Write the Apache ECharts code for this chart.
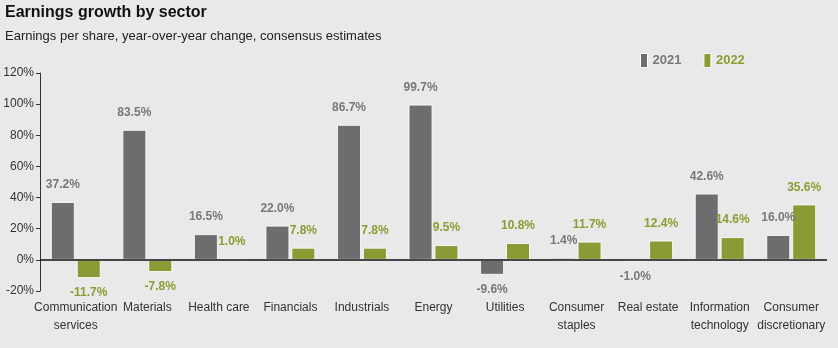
<!DOCTYPE html>
<html>
<head>
<meta charset="utf-8">
<script src="https://cdn.jsdelivr.net/npm/echarts@6/dist/echarts.min.js"></script>
<style>
  html, body { margin: 0; padding: 0; background: #e9e9e9; }
  #chart { width: 838px; height: 348px; }
</style>
</head>
<body>
<div id="chart"></div>
<script>
// Sector names, EPS growth (%) for each year, and y-axis range
const categories = [
  'Communication\nservices', 'Materials', 'Health care', 'Financials', 'Industrials',
  'Energy', 'Utilities', 'Consumer\nstaples', 'Real estate', 'Information\ntechnology',
  'Consumer\ndiscretionary'
];
const growth2021 = [37.2, 83.5, 16.5, 22.0, 86.7, 99.7, -9.6, 1.4, -1.0, 42.6, 16.0];
const growth2022 = [-11.7, -7.8, 1.0, 7.8, 7.8, 9.5, 10.8, 11.7, 12.4, 14.6, 35.6];
const yMin = -20, yMax = 120, yStep = 20;

const FONT = '"Liberation Sans", Arial, sans-serif';
const GRAY = '#6e6c6f';
const GREEN = '#8a9a35';
const GRAY_TXT = '#78777a';
const GREEN_TXT = '#8c9c32';

function barData(values) {
  return values.map(v => ({
    value: v,
    label: v < 0 ? { position: 'bottom', distance: 9 } : { position: 'top', distance: 11 }
  }));
}

function barSeries(name, values, color, txt) {
  return {
    name: name,
    type: 'bar',
    data: barData(values),
    barWidth: 24,
    barGap: '8%',
    itemStyle: { color: color, borderColor: 'rgba(255,255,255,0.85)', borderWidth: 1 },
    label: {
      show: true,
      color: txt,
      fontFamily: FONT,
      fontSize: 12,
      fontWeight: 'bold',
      formatter: p => p.value.toFixed(1) + '%'
    }
  };
}

const chart = echarts.init(document.getElementById('chart'), null, { renderer: 'canvas' });
const s2021 = barSeries('2021', growth2021, GRAY, GRAY_TXT);
s2021.markLine = {
  silent: true,
  symbol: 'none',
  label: { show: false },
  lineStyle: { color: '#111', width: 1.5, type: 'solid' },
  data: [{ yAxis: 0 }]
};

chart.setOption({
  backgroundColor: '#e9e9e9',
  animation: false,
  title: [
    {
      text: 'Earnings growth by sector',
      left: 5, top: 5, padding: 0,
      textStyle: { fontFamily: FONT, fontSize: 16, fontWeight: 'bold', color: '#111' }
    },
    {
      text: 'Earnings per share, year-over-year change, consensus estimates',
      left: 5, top: 30, padding: 0,
      textStyle: { fontFamily: FONT, fontSize: 13, fontWeight: 'normal', color: '#222' }
    }
  ],
  legend: {
    left: 640, top: 53, padding: 0,
    itemWidth: 7, itemHeight: 14, itemGap: 22,
    icon: 'rect',
    itemStyle: { borderColor: '#fff', borderWidth: 1 },
    textStyle: { fontFamily: FONT, fontSize: 13, fontWeight: 'bold' },
    data: [
      { name: '2021', textStyle: { color: GRAY_TXT } },
      { name: '2022', textStyle: { color: GREEN_TXT } }
    ]
  },
  grid: { left: 40, right: 11, top: 73, bottom: 57, containLabel: false },
  xAxis: {
    type: 'category',
    data: categories,
    axisLine: { show: false },
    axisTick: { show: false },
    axisLabel: {
      interval: 0, margin: 8, color: '#333',
      fontFamily: FONT, fontSize: 12, lineHeight: 18
    }
  },
  yAxis: {
    type: 'value',
    min: yMin, max: yMax, interval: yStep,
    axisLine: { show: true, lineStyle: { color: '#333', width: 1 } },
    axisTick: { show: true, length: 4, lineStyle: { color: '#333' } },
    splitLine: { show: false },
    axisLabel: {
      margin: 6, color: '#333', fontFamily: FONT, fontSize: 12,
      formatter: '{value}%'
    }
  },
  series: [s2021, barSeries('2022', growth2022, GREEN, GREEN_TXT)]
});
</script>
</body>
</html>
